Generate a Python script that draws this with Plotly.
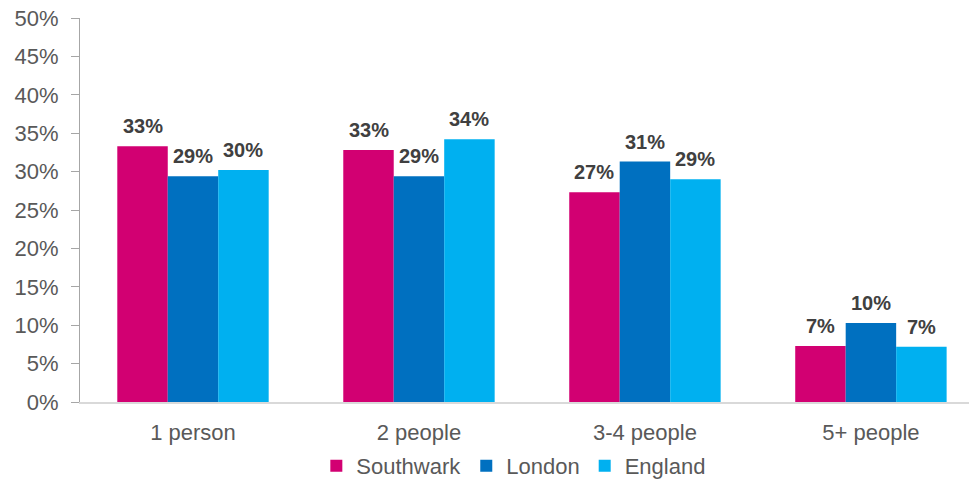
import plotly.graph_objects as go

categories = ["1 person", "2 people", "3-4 people", "5+ people"]
series_names = ["Southwark", "London", "England"]
southwark = [33.3, 32.8, 27.3, 7.3]
london = [29.4, 29.4, 31.3, 10.3]
england = [30.2, 34.2, 29.0, 7.2]
colors = ["#D20072", "#0070C0", "#00B0F0"]

values = [southwark, london, england]
fig = go.Figure()
bargap = 0.33
bw = (1 - bargap) / 3
annotations = []
for i, (name, vals, col) in enumerate(zip(series_names, values, colors)):
    fig.add_trace(go.Bar(
        x=categories, y=vals, name=name, marker_color=col,
        marker_line_width=0,
    ))
    off = (i - 1) * bw
    for j, v in enumerate(vals):
        annotations.append(dict(
            x=j + off, y=v, xref="x", yref="y", text=f"{round(v)}%",
            showarrow=False, yanchor="bottom", yshift=7,
            font=dict(family="Liberation Sans, Arial", size=20, color="#404040", weight="bold"),
        ))

fig.update_layout(
    width=969, height=480,
    margin=dict(l=80, r=0, t=18, b=78, autoexpand=False),
    barmode="group", bargap=bargap, bargroupgap=0,
    plot_bgcolor="white", paper_bgcolor="white",
    font=dict(family="Liberation Sans, Arial", size=22, color="#595959"),
    showlegend=True,
    legend=dict(orientation="h", x=0.488, xanchor="center", y=-0.112, yanchor="top",
                font=dict(size=22, color="#595959"), itemwidth=30,
                traceorder="normal", itemclick=False),
    annotations=annotations,
)
fig.update_xaxes(
    range=[-0.5, 3.434], showgrid=False, showline=True, linecolor="#D9D9D9", linewidth=2,
    ticks="", tickfont=dict(size=22, color="#595959"), ticklabelstandoff=10,
)
fig.update_yaxes(
    range=[0, 50], dtick=5, ticksuffix="%", showgrid=False, zeroline=False,
    showline=True, linecolor="#A6A6A6", linewidth=1, ticks="outside", ticklen=8,
    tickcolor="#A6A6A6", tickfont=dict(size=22, color="#595959"), ticklabelstandoff=8,
)
fig.write_html("out.html")
